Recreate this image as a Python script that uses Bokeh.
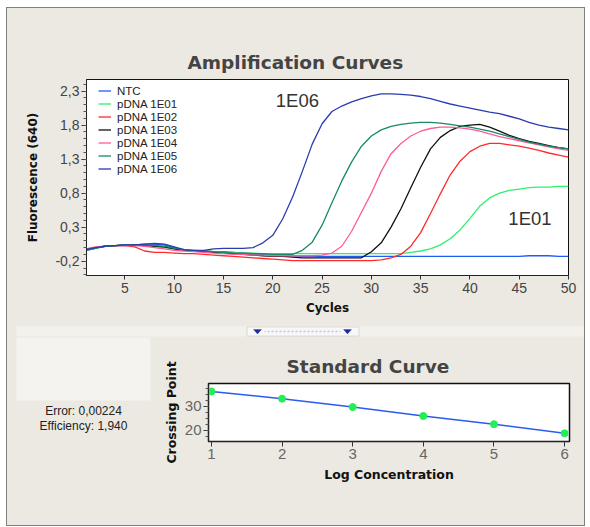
import numpy as np
from bokeh.plotting import figure
from bokeh.models import (Range1d, FixedTicker, Legend, LegendItem, Label,
                          BoxAnnotation, PolyAnnotation)
from bokeh.layouts import column, row
from bokeh.embed import file_html
from bokeh.resources import INLINE

# ---------------- data ----------------
cycles = list(range(1, 51))

ntc = [-0.04, -0.01, 0.02, 0.03, 0.03, 0.04, 0.05, 0.05, 0.04, 0.00,
       -0.04, -0.05, -0.05, -0.06, -0.06, -0.07, -0.08, -0.09, -0.10, -0.11,
       -0.12, -0.12, -0.13, -0.13, -0.13, -0.13, -0.13, -0.13, -0.13, -0.13,
       -0.13, -0.13, -0.13, -0.13, -0.13, -0.13, -0.13, -0.13, -0.13, -0.13,
       -0.13, -0.13, -0.13, -0.13, -0.13, -0.12, -0.12, -0.12, -0.13, -0.13]

pdna_1e01 = [-0.04, -0.01, 0.02, 0.03, 0.04, 0.04, 0.03, 0.02, 0.00, -0.02,
             -0.04, -0.05, -0.05, -0.06, -0.07, -0.07, -0.08, -0.08, -0.09, -0.09,
             -0.09, -0.09, -0.09, -0.09, -0.09, -0.09, -0.09, -0.09, -0.09, -0.09,
             -0.09, -0.09, -0.09, -0.07, -0.05, -0.02, 0.04, 0.13, 0.26, 0.43,
             0.61, 0.73, 0.80, 0.84, 0.86, 0.88, 0.89, 0.89, 0.90, 0.90]

pdna_1e02 = [-0.02, 0.00, 0.02, 0.03, 0.03, 0.01, -0.05, -0.07, -0.07, -0.08,
             -0.09, -0.09, -0.10, -0.11, -0.12, -0.13, -0.14, -0.15, -0.16, -0.17,
             -0.18, -0.19, -0.19, -0.19, -0.19, -0.19, -0.19, -0.19, -0.19, -0.19,
             -0.18, -0.15, -0.10, 0.02, 0.22, 0.50, 0.79, 1.07, 1.27, 1.41,
             1.49, 1.53, 1.53, 1.51, 1.49, 1.46, 1.43, 1.39, 1.36, 1.33]

pdna_1e03 = [-0.03, 0.00, 0.02, 0.03, 0.04, 0.04, 0.03, 0.02, 0.01, -0.02,
             -0.04, -0.05, -0.06, -0.07, -0.08, -0.09, -0.10, -0.11, -0.12, -0.13,
             -0.13, -0.14, -0.15, -0.15, -0.15, -0.15, -0.15, -0.15, -0.15, -0.06,
             0.07, 0.30, 0.57, 0.88, 1.18, 1.45, 1.62, 1.72, 1.78, 1.80,
             1.81, 1.77, 1.71, 1.65, 1.60, 1.56, 1.53, 1.50, 1.47, 1.45]

pdna_1e04 = [-0.02, 0.01, 0.02, 0.03, 0.03, 0.03, 0.02, 0.00, -0.02, -0.04,
             -0.05, -0.06, -0.07, -0.08, -0.09, -0.10, -0.10, -0.11, -0.11, -0.12,
             -0.12, -0.12, -0.12, -0.12, -0.11, -0.08, 0.02, 0.24, 0.52, 0.80,
             1.12, 1.38, 1.53, 1.64, 1.71, 1.75, 1.77, 1.77, 1.76, 1.74,
             1.71, 1.67, 1.63, 1.60, 1.57, 1.54, 1.51, 1.48, 1.45, 1.43]

pdna_1e05 = [-0.04, -0.01, 0.02, 0.03, 0.04, 0.04, 0.04, 0.03, 0.02, -0.01,
             -0.03, -0.04, -0.05, -0.06, -0.07, -0.08, -0.08, -0.09, -0.09, -0.10,
             -0.10, -0.10, -0.04, 0.08, 0.33, 0.66, 0.98, 1.26, 1.49, 1.64,
             1.73, 1.78, 1.81, 1.83, 1.84, 1.84, 1.83, 1.81, 1.79, 1.77,
             1.74, 1.71, 1.67, 1.63, 1.59, 1.55, 1.52, 1.49, 1.47, 1.45]

pdna_1e06 = [-0.03, 0.00, 0.02, 0.03, 0.04, 0.04, 0.05, 0.06, 0.05, 0.01,
             -0.03, -0.04, -0.04, -0.02, -0.01, -0.01, -0.01, 0.00, 0.07, 0.18,
             0.42, 0.74, 1.12, 1.52, 1.82, 2.00, 2.08, 2.14, 2.19, 2.23,
             2.26, 2.26, 2.25, 2.24, 2.22, 2.19, 2.15, 2.11, 2.08, 2.05,
             2.02, 1.99, 1.97, 1.93, 1.89, 1.84, 1.80, 1.77, 1.75, 1.73]

series_names = ["NTC", "pDNA 1E01", "pDNA 1E02", "pDNA 1E03",
                "pDNA 1E04", "pDNA 1E05", "pDNA 1E06"]
series_values = [ntc, pdna_1e01, pdna_1e02, pdna_1e03,
                 pdna_1e04, pdna_1e05, pdna_1e06]
series_colors = ["#1f5cf5", "#2ef06a", "#ff2a2a", "#111111",
                 "#ff5a9c", "#168a68", "#2a3cb0"]

fluor_ticks = [-0.2, 0.3, 0.8, 1.3, 1.8, 2.3]
fluor_tick_labels = ["-0,2", "0,3", "0,8", "1,3", "1,8", "2,3"]
cycle_ticks = [5, 10, 15, 20, 25, 30, 35, 40, 45, 50]

log_conc = [1, 2, 3, 4, 5, 6]
crossing_point = [36.2, 33.2, 29.7, 26.0, 22.6, 18.8]
cp_ticks = [20, 30]

error_text = "Error: 0,00224"
efficiency_text = "Efficiency: 1,940"

# ---------------- style ----------------
BG = "#ECE9E2"
TICK_FONT = "Liberation Sans"
BOLD_FONT = "DejaVu Sans"


def style_axis(ax, size, label_size):
    ax.axis_line_color = "#222222"
    ax.major_tick_line_color = "#333333"
    ax.minor_tick_line_color = "#555555"
    ax.major_tick_in = 0
    ax.minor_tick_in = 0
    ax.major_label_text_font = TICK_FONT
    ax.major_label_text_font_size = size
    ax.major_label_text_color = "#444444"
    ax.axis_label_text_font = BOLD_FONT
    ax.axis_label_text_font_style = "bold"
    ax.axis_label_text_font_size = label_size
    ax.axis_label_text_color = "#111111"


# ---------------- amplification curves ----------------
amp = figure(width=577, height=310,
             x_range=Range1d(1.1, 50), y_range=Range1d(-0.41, 2.47),
             output_backend="svg", toolbar_location=None, frame_align=False,
             min_border_left=79, min_border_right=16,
             min_border_top=71, min_border_bottom=43,
             background_fill_color="white", border_fill_color=BG,
             outline_line_color="#111111")
amp.grid.visible = False
amp.title.text = "Amplification Curves"
amp.title.text_font = BOLD_FONT
amp.title.text_font_style = "bold"
amp.title.text_font_size = "18.5px"
amp.title.align = "left"
amp.title.offset = 101
amp.title.standoff = 13

items = []
for name, vals, col in zip(series_names, series_values, series_colors):
    r = amp.line(cycles, vals, line_color=col, line_width=1.3)
    items.append(LegendItem(label=name, renderers=[r]))

legend = Legend(items=items, location=(12, 100), padding=0, margin=0, spacing=0,
                label_height=13, glyph_height=13, glyph_width=13, label_standoff=6,
                label_text_font=TICK_FONT, label_text_font_size="11.5px",
                label_text_color="#222222",
                background_fill_alpha=0, border_line_color=None)
amp.add_layout(legend)

amp.add_layout(Label(x=20.3, y=2.16, text="1E06", text_baseline="middle",
                     text_font=TICK_FONT, text_font_size="18.5px", text_color="#333333"))
amp.add_layout(Label(x=43.9, y=0.43, text="1E01", text_baseline="middle",
                     text_font=TICK_FONT, text_font_size="18.5px", text_color="#333333"))

amp.xaxis.ticker = FixedTicker(ticks=cycle_ticks, minor_ticks=[])
amp.yaxis.ticker = FixedTicker(ticks=fluor_ticks,
                               minor_ticks=list(np.round(np.arange(-0.4, 2.45, 0.1), 2)))
amp.yaxis.major_label_overrides = dict(zip(fluor_ticks, fluor_tick_labels))
amp.xaxis.axis_label = "Cycles"
amp.yaxis.axis_label = "Fluorescence (640)"
style_axis(amp.xaxis[0], "14px", "12px")
style_axis(amp.yaxis[0], "14px", "12px")
amp.xaxis.major_tick_out = 4
amp.xaxis.major_label_standoff = 3
amp.xaxis.axis_label_standoff = 5
amp.yaxis.major_tick_out = 5
amp.yaxis.minor_tick_out = 3
amp.yaxis.major_label_standoff = 2
amp.yaxis.axis_label_standoff = 12

# ---------------- strip with scroll widget ----------------
strip = figure(width=577, height=19, x_range=Range1d(7, 584), y_range=Range1d(337, 318),
               output_backend="svg", toolbar_location=None, frame_align=False,
               x_axis_location=None, y_axis_location=None,
               min_border=0, min_border_left=0, min_border_right=0,
               min_border_top=0, min_border_bottom=0,
               background_fill_color=BG, border_fill_color=BG, outline_line_color=None)
strip.grid.visible = False
strip.add_layout(BoxAnnotation(left=16, right=584, top=325.5, bottom=336,
                               fill_color="#F3F1EB", fill_alpha=1, line_color=None))
strip.add_layout(BoxAnnotation(left=246.5, right=358.5, top=326.5, bottom=335.5,
                               fill_color="#F8F8F8", fill_alpha=1,
                               line_color="#9A9A9A", line_width=1))
strip.add_layout(BoxAnnotation(left=264, right=340, top=331, bottom=331,
                               fill_alpha=0, line_color="#3a48a8", line_dash="1 3",
                               line_width=1.5))
strip.add_layout(PolyAnnotation(xs=[253, 261, 257], ys=[329, 329, 333.5],
                                fill_color="#1a2aa0", fill_alpha=1, line_color="#1a2aa0"))
strip.add_layout(PolyAnnotation(xs=[343, 351, 347], ys=[329, 329, 333.5],
                                fill_color="#1a2aa0", fill_alpha=1, line_color="#1a2aa0"))

# ---------------- error / efficiency box ----------------
deco = figure(width=153, height=188, x_range=Range1d(7, 160), y_range=Range1d(525, 337),
              output_backend="svg", toolbar_location=None, frame_align=False,
              x_axis_location=None, y_axis_location=None,
              min_border=0, min_border_left=0, min_border_right=0,
              min_border_top=0, min_border_bottom=0,
              background_fill_color=BG, border_fill_color=BG, outline_line_color=None)
deco.grid.visible = False
deco.add_layout(BoxAnnotation(left=16, right=150, top=337, bottom=400,
                              fill_color="#F5F3EF", fill_alpha=1, line_color=None))
deco.add_layout(Label(x=83, y=410, text=error_text, text_align="center",
                      text_baseline="middle", text_font=TICK_FONT,
                      text_font_size="12px", text_color="#222222"))
deco.add_layout(Label(x=83, y=425, text=efficiency_text, text_align="center",
                      text_baseline="middle", text_font=TICK_FONT,
                      text_font_size="12px", text_color="#222222"))

# ---------------- standard curve ----------------
std = figure(width=424, height=188,
             x_range=Range1d(0.958, 6.07), y_range=Range1d(15.4, 39.5),
             output_backend="svg", toolbar_location=None, frame_align=False,
             min_border_left=45, min_border_right=15,
             min_border_top=46, min_border_bottom=84,
             background_fill_color="white", border_fill_color=BG,
             outline_line_color="#111111", outline_line_width=1.5)
std.grid.visible = False
std.title.text = "Standard Curve"
std.title.text_font = BOLD_FONT
std.title.text_font_style = "bold"
std.title.text_font_size = "18.5px"
std.title.align = "left"
std.title.offset = 78
std.title.standoff = 13

std.line(log_conc, crossing_point, line_color="#2a5cf0", line_width=1.5)
std.scatter(log_conc, crossing_point, size=7, fill_color="#22ee55", line_color="#22ee55")

std.xaxis.ticker = FixedTicker(ticks=log_conc, minor_ticks=[])
std.yaxis.ticker = FixedTicker(ticks=cp_ticks,
                               minor_ticks=list(np.arange(15.0, 40.0, 2.5)))
std.xaxis.axis_label = "Log Concentration"
std.yaxis.axis_label = "Crossing Point"
style_axis(std.xaxis[0], "15px", "12.5px")
style_axis(std.yaxis[0], "15px", "12.5px")
std.xaxis.major_label_text_color = "#666666"
std.yaxis.major_label_text_color = "#666666"
std.xaxis.major_tick_out = 5
std.xaxis.major_label_standoff = 2
std.xaxis.axis_label_standoff = 5
std.yaxis.major_tick_out = 5
std.yaxis.minor_tick_out = 3
std.yaxis.major_label_standoff = 2
std.yaxis.axis_label_standoff = 3

layout = column(amp, strip, row(deco, std, spacing=0), spacing=0,
                margin=(7, 0, 0, 6),
                styles={"background-color": BG, "border": "1px solid #808080"})

with open("out.html", "w") as f:
    f.write(file_html(layout, INLINE))
